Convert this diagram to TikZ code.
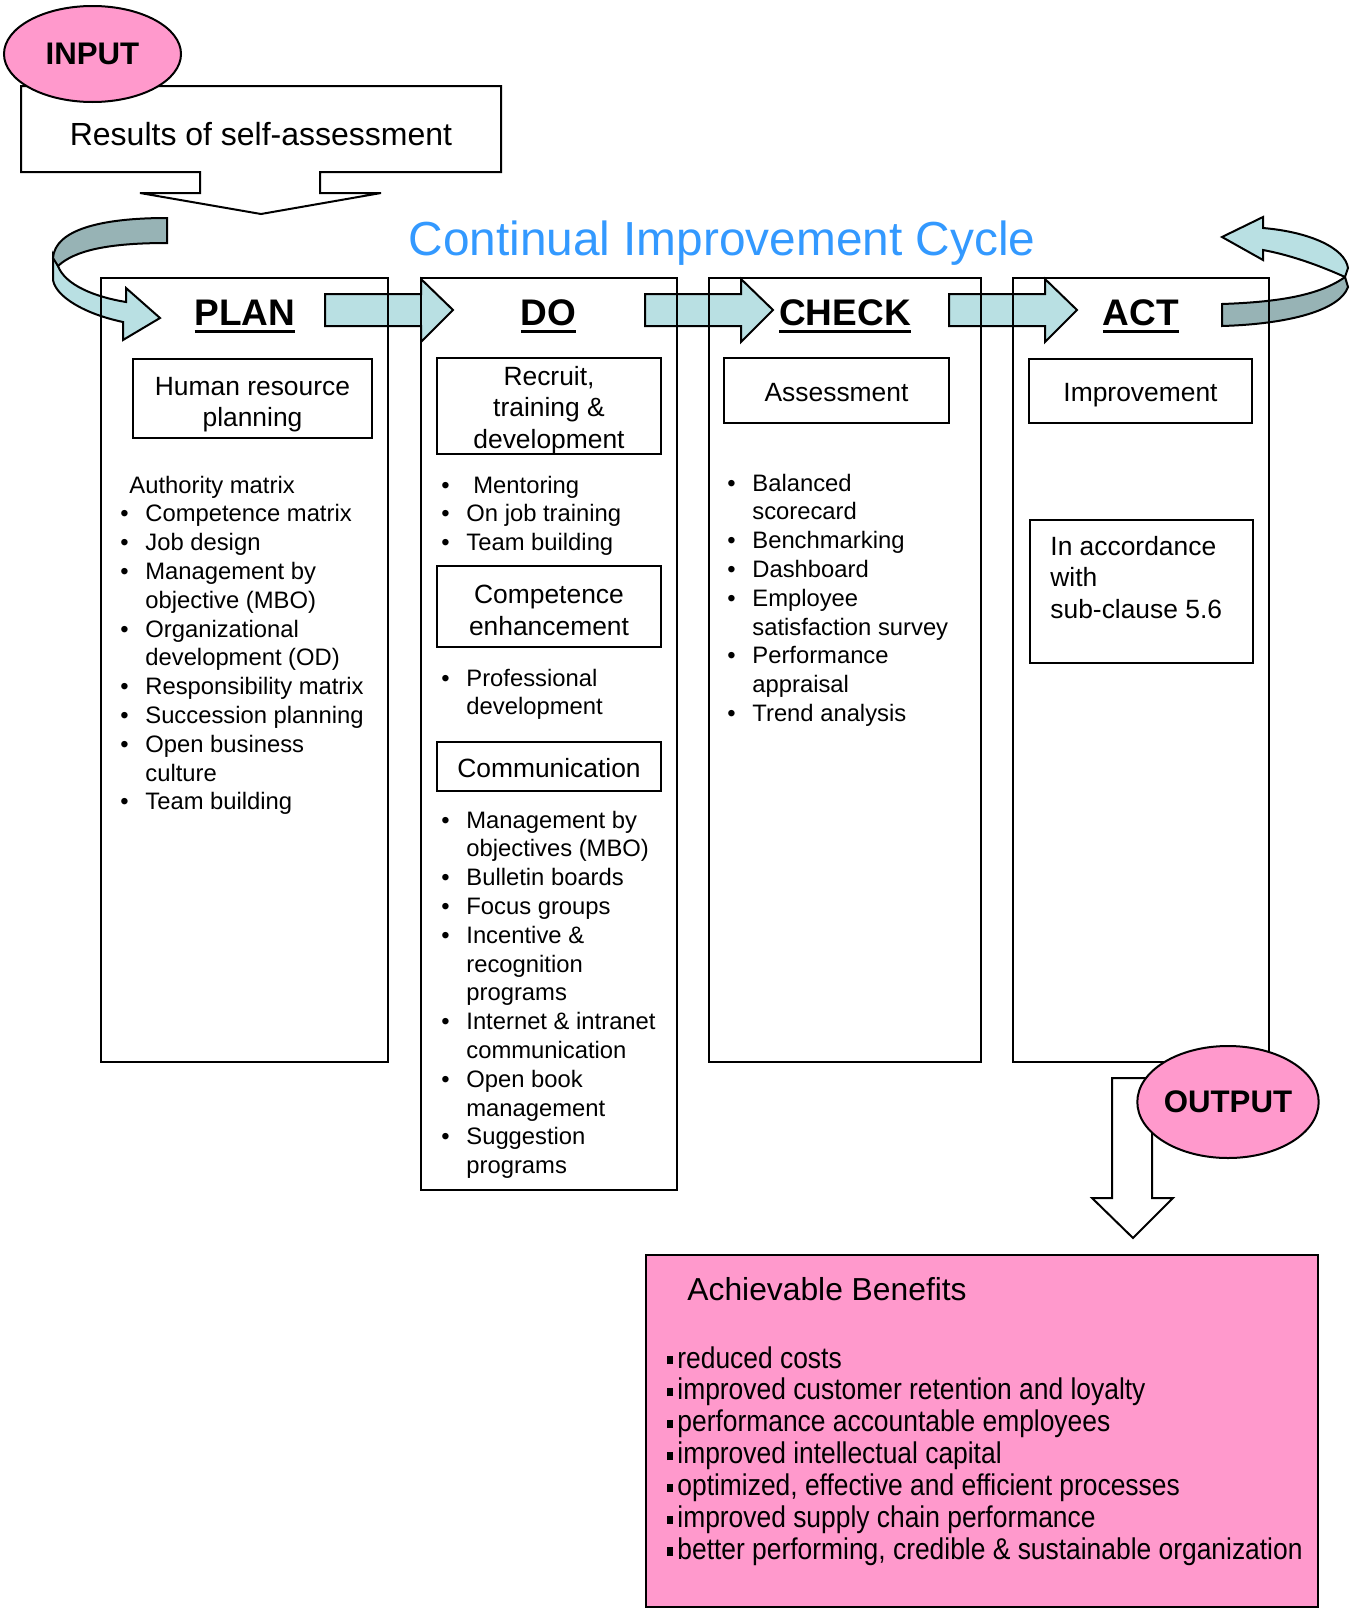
\documentclass[tikz,border=0pt]{standalone}
\usepackage{fontspec}
\setmainfont{Liberation Sans}
\newfontfamily\narrowsans[FakeStretch=0.88]{Liberation Sans}
\usetikzlibrary{shapes.geometric}

\definecolor{pinkfill}{HTML}{FF99CC}
\definecolor{teallight}{HTML}{B9E0E3}
\definecolor{tealdark}{HTML}{97B3B5}
\definecolor{titleblue}{HTML}{3399FF}

\newcommand{\bl}{\makebox[12.5pt][l]{•}}
\newcommand{\ind}{\hspace*{12.5pt}}
\newcommand{\sq}{\rule[1.8pt]{2.6pt}{4.2pt}\hspace{2.4pt}}
\newcommand{\hdr}[1]{\setbox0\hbox{#1}\rlap{\rule[-4pt]{\wd0}{1.4pt}}\box0}

\tikzset{
  phase/.style={draw, line width=1pt},
  subbox/.style={draw, line width=1pt, inner sep=0pt},
  subtxt/.style={align=center, inner sep=0pt, font=\fontsize{13.2}{15.75}\selectfont},
  lst/.style={anchor=base west, align=left, inner sep=0pt,
    font=\fontsize{11.9}{14.4}\selectfont},
  hd/.style={anchor=base, inner sep=0pt, font=\bfseries\fontsize{18.5}{22}\selectfont},
  blk/.style={draw, line width=1pt, fill=teallight, line join=miter},
  tag/.style={draw, line width=1pt, fill=pinkfill, ellipse, inner sep=0pt,
    font=\bfseries\fontsize{15.6}{18}\selectfont}
}

\begin{document}
\begin{tikzpicture}[x=0.5pt, y=-0.5pt]
\useasboundingbox (0,0) rectangle (1358,1612);

% input
\draw[line width=1pt, fill=white] (21,86) -- (501,86) -- (501,172) -- (320,172)
  -- (320,193) -- (381,193) -- (261,214) -- (140,193) -- (200,193)
  -- (200,172) -- (21,172) -- cycle;
\node[anchor=base, inner sep=0pt, font=\fontsize{16}{19}\selectfont] (res)
  at (261,145) {Results of self-assessment};
\node[tag, minimum width=88.5pt, minimum height=48pt] (input) at (92.5,54) {INPUT};

\node[anchor=base, inner sep=0pt, text=titleblue, font=\fontsize{23.9}{28}\selectfont]
  (title) at (722,255) {Continual Improvement Cycle};

% curved arrows
\filldraw[fill=teallight, line width=1pt, line join=miter]
  (53,255) -- (53,280) .. controls (56,297) and (85,314) ..
  (123,322) -- (123,340) -- (160,318) -- (126,288) --
  (126,302) .. controls (95,297) and (65,285) .. (58,266) -- cycle;
\filldraw[fill=tealdark, line width=1pt]
  (167,218) .. controls (100,218) and (55,230) .. (53,258) --
  (58,266) .. controls (75,250) and (110,243) .. (167,243) -- cycle;

\filldraw[fill=teallight, line width=1pt, line join=miter]
  (1263,228) .. controls (1310,232) and (1345,248) .. (1348,268) --
  (1345,277) .. controls (1325,268) and (1295,256) .. (1263,250) --
  (1263,260) -- (1222,237) -- (1263,217) -- cycle;
\filldraw[fill=tealdark, line width=1pt]
  (1345,277) .. controls (1320,295) and (1280,302) .. (1222,304) --
  (1222,326) .. controls (1290,324) and (1340,310) .. (1348,287) -- cycle;

\foreach \ax in {325,645,949}
  \draw[blk] (\ax,294) -- ++(96,0) -- ++(0,-15) -- ++(32,31) -- ++(-32,32)
    -- ++(0,-16) -- ++(-96,0) -- cycle;

% phases
\draw[phase] (101,278) rectangle (388,1062);
\draw[phase] (421,278) rectangle (677,1190);
\draw[phase] (709,278) rectangle (981,1062);
\draw[phase] (1013,278) rectangle (1269,1062);

\node[hd] (plan) at (245,325) {\hdr{PLAN}};
\node[hd] (do) at (548.5,325) {\hdr{DO}};
\node[hd] (check) at (845,325) {\hdr{CHECK}};
\node[hd] (act) at (1141,325) {\hdr{ACT}};

\node[subbox, minimum width=119.5pt, minimum height=39.5pt] (hr) at (252.5,398.5) {};
\node[subtxt] (hrtxt) at ([yshift=-3pt]hr.center) {Human resource\\planning};
\node[subbox, minimum width=112pt, minimum height=48pt] (recruit) at (549,406) {};
\node[subtxt] (recruittxt) at ([yshift=-2pt]recruit.center)
  {Recruit,\\training \&\\development};
\node[subbox, minimum width=112pt, minimum height=40.5pt] (compet) at (549,606.5) {};
\node[subtxt] (competxt) at ([yshift=-2pt]compet.center) {Competence\\enhancement};
\node[subbox, minimum width=112pt, minimum height=24.5pt] (comm) at (549,766.5) {};
\node[subtxt] (commtxt) at ([yshift=-1pt]comm.center) {Communication};
\node[subbox, minimum width=112.5pt, minimum height=32.5pt] (assess) at (836.5,390.5) {};
\node[subtxt] (assesstxt) at ([yshift=-1pt]assess.center) {Assessment};
\node[subbox, minimum width=111.5pt, minimum height=32pt] (improve) at (1140.5,391) {};
\node[subtxt] (improvetxt) at ([yshift=-2pt]improve.center) {Improvement};
\node[subbox, anchor=north west, minimum width=111.5pt, minimum height=71.5pt]
  (accord) at (1029,519) {};
\node[lst, font=\fontsize{13.2}{15.75}\selectfont] (accordtxt) at (1050,618)
  {In accordance\\with\\sub-clause 5.6};

\node[lst] (planlist) at (120,809.8)
  {\hspace*{4.5pt}Authority matrix\\
   \bl Competence matrix\\
   \bl Job design\\
   \bl Management by\\
   \ind objective (MBO)\\
   \bl Organizational\\
   \ind development (OD)\\
   \bl Responsibility matrix\\
   \bl Succession planning\\
   \bl Open business\\
   \ind culture\\
   \bl Team building};

\node[lst] (recruitlist) at (441,550.6)
  {\bl\hspace*{3.5pt}Mentoring\\
   \bl On job training\\
   \bl Team building};
\node[lst] (competlist) at (441,714.8)
  {\bl Professional\\
   \ind development};
\node[lst] (commlist) at (441,1173.6)
  {\bl Management by\\
   \ind objectives (MBO)\\
   \bl Bulletin boards\\
   \bl Focus groups\\
   \bl Incentive \&\\
   \ind recognition\\
   \ind programs\\
   \bl Internet \& intranet\\
   \ind communication\\
   \bl Open book\\
   \ind management\\
   \bl Suggestion\\
   \ind programs};

\node[lst] (checklist) at (727,721.4)
  {\bl Balanced\\
   \ind scorecard\\
   \bl Benchmarking\\
   \bl Dashboard\\
   \bl Employee\\
   \ind satisfaction survey\\
   \bl Performance\\
   \ind appraisal\\
   \bl Trend analysis};

% output
\draw[line width=1pt, fill=white] (1112,1078) -- (1152,1078) -- (1152,1198)
  -- (1173,1198) -- (1133,1238) -- (1092,1198) -- (1112,1198) -- cycle;
\node[tag, minimum width=88.5pt, minimum height=56pt] (output) at (1228,1102) {OUTPUT};

\node[draw, line width=1pt, fill=pinkfill, anchor=north west, inner sep=0pt,
  minimum width=336pt, minimum height=176pt] (benefits) at (645,1254) {};
\node[anchor=base west, inner sep=0pt, font=\fontsize{15.9}{18}\selectfont]
  (benhead) at (687,1300) {Achievable Benefits};
\node[lst, font=\narrowsans\fontsize{15}{15.95}\selectfont] (benlist) at (667,1559.4)
  {\sq reduced costs\\
   \sq improved customer retention and loyalty\\
   \sq performance accountable employees\\
   \sq improved intellectual capital\\
   \sq optimized, effective and efficient processes\\
   \sq improved supply chain performance\\
   \sq better performing, credible \& sustainable organization};
\end{tikzpicture}
\end{document}
